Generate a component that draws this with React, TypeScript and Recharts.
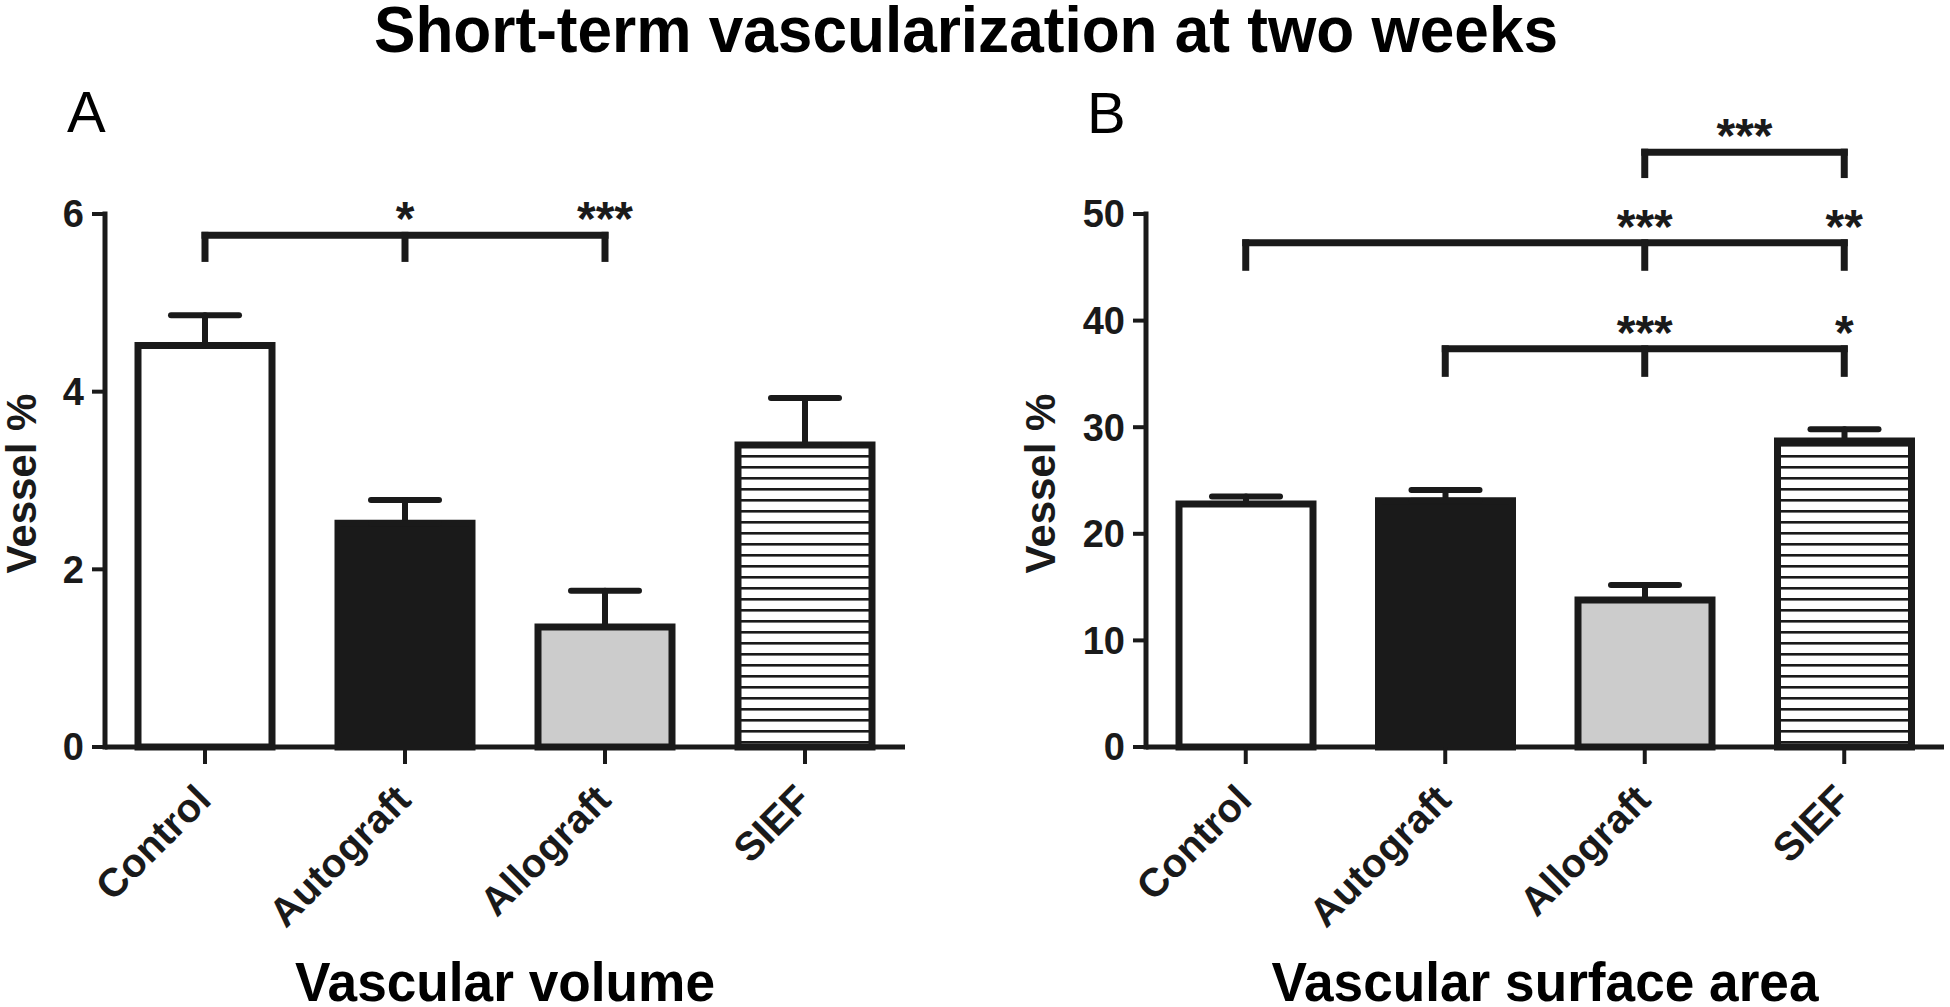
import { BarChart, Bar, XAxis, YAxis, Cell, ErrorBar, ReferenceLine, ReferenceDot, Label } from 'recharts';

const FONT = '"Liberation Sans", Arial, Helvetica, sans-serif';
const INK = '#1a1a1a';

const groups = ['Control', 'Autograft', 'Allograft', 'SIEF'];

const volumeMean = [4.52, 2.52, 1.35, 3.4];
const volumeSem = [0.34, 0.26, 0.41, 0.53];
const volumeTicks = [0, 2, 4, 6];

const surfaceMean = [22.8, 23.1, 13.8, 28.7];
const surfaceSem = [0.7, 1.0, 1.4, 1.1];
const surfaceTicks = [0, 10, 20, 30, 40, 50];

interface Bracket {
    from: string;
    to: string;
    y: number;
    drop: number;
    legs: string[];
    label: string;
}

interface Stars {
    at: string;
    y: number;
    text: string;
}

const volumeBrackets: Bracket[] = [
    { from: 'Control', to: 'Allograft', y: 5.76, drop: 5.5, legs: ['Control', 'Autograft', 'Allograft'], label: '' },
];
const volumeStars: Stars[] = [
    { at: 'Autograft', y: 5.76, text: '*' },
    { at: 'Allograft', y: 5.76, text: '***' },
];

const surfaceBrackets: Bracket[] = [
    { from: 'Allograft', to: 'SIEF', y: 55.8, drop: 53.7, legs: ['Allograft', 'SIEF'], label: '***' },
    { from: 'Control', to: 'SIEF', y: 47.3, drop: 45.0, legs: ['Control', 'Allograft', 'SIEF'], label: '' },
    { from: 'Autograft', to: 'SIEF', y: 37.35, drop: 35.05, legs: ['Autograft', 'Allograft', 'SIEF'], label: '' },
];
const surfaceStars: Stars[] = [
    { at: 'Allograft', y: 47.3, text: '***' },
    { at: 'SIEF', y: 47.3, text: '**' },
    { at: 'Allograft', y: 37.35, text: '***' },
    { at: 'SIEF', y: 37.35, text: '*' },
];

const starStyle = { fontSize: 48, fontWeight: 700, fill: INK, fontFamily: FONT };

function CategoryTick({ x, y, payload }: any) {
    const ax = x + 8;
    const ay = y + 36;
    return (
        <text
            x={ax}
            y={ay}
            textAnchor="end"
            transform={`rotate(-45 ${ax} ${ay})`}
            fontSize={40}
            fontWeight={700}
            fontFamily={FONT}
            fill={INK}
        >
            {payload.value}
        </text>
    );
}

function XTitle({ viewBox, text, length }: any) {
    return (
        <text
            x={viewBox.x + viewBox.width / 2}
            y={viewBox.y + viewBox.height - 6}
            textAnchor="middle"
            textLength={length}
            lengthAdjust="spacingAndGlyphs"
            fontSize={56}
            fontWeight={700}
            fontFamily={FONT}
            fill="#000"
        >
            {text}
        </text>
    );
}

function YTitle({ viewBox, cx }: any) {
    const x = viewBox.x + cx;
    const y = viewBox.y + viewBox.height / 2 + 3;
    return (
        <text
            x={x}
            y={y}
            transform={`rotate(-90 ${x} ${y})`}
            textAnchor="middle"
            dominantBaseline="central"
            fontSize={42}
            fontWeight={700}
            fontFamily={FONT}
            fill={INK}
        >
            Vessel %
        </text>
    );
}

interface PanelProps {
    mean: number[];
    sem: number[];
    ticks: number[];
    brackets: Bracket[];
    stars: Stars[];
    xTitle: string;
    xTitleLength: number;
    patternId: string;
    yAxisWidth: number;
    rightMargin: number;
    yTitleX: number;
}

function Panel({
    mean,
    sem,
    ticks,
    brackets,
    stars,
    xTitle,
    xTitleLength,
    patternId,
    yAxisWidth,
    rightMargin,
    yTitleX,
}: PanelProps) {
    const data = groups.map((g, i) => ({ group: g, mean: mean[i], sem: [0, sem[i]] }));
    const fills = ['#ffffff', INK, '#cccccc', `url(#${patternId})`];
    const top = ticks[ticks.length - 1];

    return (
        <BarChart
            width={975}
            height={1007}
            data={data}
            margin={{ top: 214, right: rightMargin, bottom: 0, left: 0 }}
            barSize={134}
        >
            <defs>
                <pattern id={patternId} patternUnits="userSpaceOnUse" width={8} height={11}>
                    <rect width={8} height={11} fill="#ffffff" />
                    <rect y={4} width={8} height={2.6} fill={INK} />
                </pattern>
            </defs>
            <XAxis
                dataKey="group"
                height={260}
                interval={0}
                tickSize={17}
                tickMargin={2}
                tick={<CategoryTick />}
                axisLine={{ stroke: INK, strokeWidth: 5 }}
                tickLine={{ stroke: INK, strokeWidth: 4 }}
            >
                <Label content={<XTitle text={xTitle} length={xTitleLength} />} />
            </XAxis>
            <YAxis
                width={yAxisWidth}
                domain={[0, top]}
                ticks={ticks}
                interval={0}
                tickSize={13}
                tickMargin={8}
                tick={{ fontSize: 38, fontWeight: 700, fill: INK, fontFamily: FONT }}
                axisLine={{ stroke: INK, strokeWidth: 5, strokeLinecap: 'square' }}
                tickLine={{ stroke: INK, strokeWidth: 4 }}
            >
                <Label content={<YTitle cx={yTitleX} />} />
            </YAxis>
            <Bar dataKey="mean" stroke={INK} strokeWidth={7} isAnimationActive={false}>
                {data.map((d, i) => (
                    <Cell key={d.group} fill={fills[i]} />
                ))}
                <ErrorBar
                    dataKey="sem"
                    direction="y"
                    width={34}
                    stroke={INK}
                    strokeWidth={6}
                    strokeLinecap="round"
                    isAnimationActive={false}
                />
            </Bar>
            {brackets.map((b, i) => (
                <ReferenceLine
                    key={`b${i}`}
                    segment={[
                        { x: b.from, y: b.y },
                        { x: b.to, y: b.y },
                    ]}
                    stroke={INK}
                    strokeWidth={7}
                    strokeLinecap="square"
                    ifOverflow="visible"
                    label={b.label ? { value: b.label, position: 'top', offset: 0, ...starStyle } : undefined}
                />
            ))}
            {brackets.flatMap((b, i) =>
                b.legs.map((leg) => (
                    <ReferenceLine
                        key={`l${i}-${leg}`}
                        segment={[
                            { x: leg, y: b.y },
                            { x: leg, y: b.drop },
                        ]}
                        stroke={INK}
                        strokeWidth={7}
                        strokeLinecap="square"
                        ifOverflow="visible"
                    />
                ))
            )}
            {stars.map((s, i) => (
                <ReferenceDot
                    key={`s${i}`}
                    x={s.at}
                    y={s.y}
                    r={0}
                    fill="none"
                    stroke="none"
                    ifOverflow="visible"
                    label={{ value: s.text, position: 'top', offset: 0, ...starStyle }}
                />
            ))}
        </BarChart>
    );
}

export default function App() {
    return (
        <div
            style={{
                position: 'absolute',
                left: 0,
                top: 0,
                width: 1950,
                height: 1007,
                background: '#ffffff',
                overflow: 'hidden',
            }}
        >
            <svg width={1950} height={1007} style={{ position: 'absolute', left: 0, top: 0 }}>
                <text
                    x={966}
                    y={52}
                    textAnchor="middle"
                    textLength={1184}
                    lengthAdjust="spacingAndGlyphs"
                    fontSize={65}
                    fontWeight={700}
                    fontFamily={FONT}
                    fill="#000"
                >
                    Short-term vascularization at two weeks
                </text>
                <text x={67} y={132} fontSize={58} fontFamily={FONT} fill="#000">
                    A
                </text>
                <text x={1087} y={133} fontSize={58} fontFamily={FONT} fill="#000">
                    B
                </text>
            </svg>
            <div style={{ position: 'absolute', left: 0, top: 0 }}>
                <Panel
                    mean={volumeMean}
                    sem={volumeSem}
                    ticks={volumeTicks}
                    brackets={volumeBrackets}
                    stars={volumeStars}
                    xTitle="Vascular volume"
                    xTitleLength={420}
                    patternId="stripesA"
                    yAxisWidth={105}
                    rightMargin={70}
                    yTitleX={21}
                />
            </div>
            <div style={{ position: 'absolute', left: 975, top: 0 }}>
                <Panel
                    mean={surfaceMean}
                    sem={surfaceSem}
                    ticks={surfaceTicks}
                    brackets={surfaceBrackets}
                    stars={surfaceStars}
                    xTitle="Vascular surface area"
                    xTitleLength={547}
                    patternId="stripesB"
                    yAxisWidth={171}
                    rightMargin={6}
                    yTitleX={65}
                />
            </div>
        </div>
    );
}
